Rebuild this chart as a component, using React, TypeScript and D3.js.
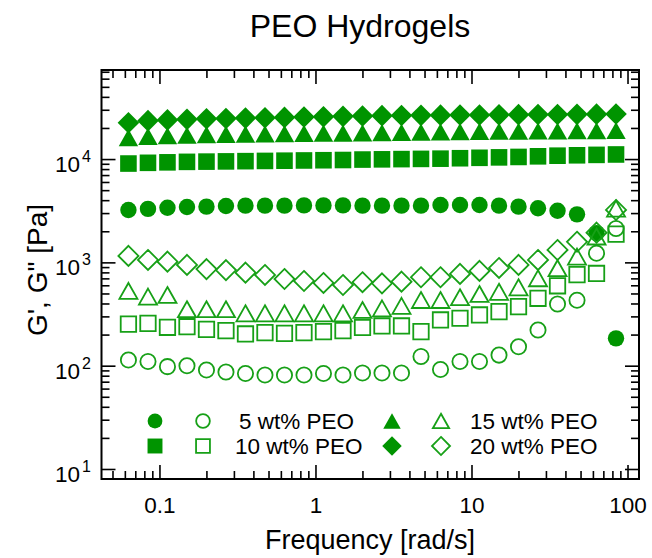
import React from "react";
import * as d3 from "d3";

// Frequencies (rad/s)
const freq = [0.0628, 0.0838, 0.1117, 0.149, 0.1987, 0.2649, 0.3533, 0.4711, 0.6283, 0.8378, 1.117, 1.49, 1.987, 2.649, 3.533, 4.711, 6.283, 8.378, 11.17, 14.9, 19.87, 26.49, 35.33, 47.11, 62.83, 83.78];

// 5 wt% PEO
const gp5 = [3250, 3330, 3420, 3470, 3500, 3550, 3580, 3580, 3580, 3600, 3600, 3600, 3580, 3580, 3580, 3580, 3630, 3630, 3630, 3580, 3500, 3380, 3200, 2950, 1940, 186];
const gpp5 = [115, 111, 99, 101, 92, 88, 85, 82, 82, 82, 85, 82, 86, 86, 86, 124, 93, 111, 111, 128, 154, 224, 400, 435, 1240, 2150];
// 10 wt% PEO
const gp10 = [9150, 9300, 9400, 9500, 9550, 9600, 9650, 9700, 9750, 9800, 9850, 9900, 10000, 10050, 10100, 10150, 10200, 10300, 10400, 10500, 10600, 10750, 10900, 11000, 11100, 11200];
const gpp10 = [255, 260, 238, 241, 227, 221, 205, 211, 208, 211, 216, 221, 237, 245, 245, 216, 280, 291, 313, 337, 377, 454, 600, 770, 790, 1900];
// 15 wt% PEO
const gp15 = [16300, 16800, 17000, 17200, 17400, 17500, 17600, 17700, 17800, 17900, 18000, 18000, 18100, 18200, 18300, 18400, 18500, 18600, 18700, 18800, 18800, 18900, 18900, 19000, 19000, 19100];
const gpp15 = [535, 471, 489, 356, 356, 356, 325, 325, 325, 325, 325, 325, 350, 363, 383, 437, 437, 465, 500, 525, 580, 710, 888, 1150, 1800, 3350];
// 20 wt% PEO
const gp20 = [22700, 23800, 24200, 24500, 24800, 25000, 25200, 25400, 25600, 25800, 26000, 26200, 26400, 26600, 26700, 26800, 26900, 27000, 27000, 27100, 27200, 27300, 27300, 27400, 27500, 27600];
const gpp20 = [1167, 1067, 1028, 955, 871, 851, 804, 764, 698, 668, 639, 611, 650, 634, 658, 726, 726, 782, 836, 893, 955, 1067, 1333, 1600, 1960, 3250];

const xMajor = [0.1, 1, 10, 100];
const xMajorLabels = ["0.1", "1", "10", "100"];
const yMajor = [10, 100, 1000, 10000];
const yExponents = ["1", "2", "3", "4"];

const legendLabels = ["5 wt% PEO", "10 wt% PEO", "15 wt% PEO", "20 wt% PEO"];

type Shape = "circle" | "square" | "triangle" | "diamond";

const series: { values: number[]; shape: Shape; filled: boolean }[] = [
  { values: gp5, shape: "circle", filled: true },
  { values: gpp5, shape: "circle", filled: false },
  { values: gp10, shape: "square", filled: true },
  { values: gpp10, shape: "square", filled: false },
  { values: gp15, shape: "triangle", filled: true },
  { values: gpp15, shape: "triangle", filled: false },
  { values: gp20, shape: "diamond", filled: true },
  { values: gpp20, shape: "diamond", filled: false },
];

const GREEN = "#009400";
const OPEN = "#17a017";
const FONT = "'Liberation Sans', Arial, Helvetica, sans-serif";

function markerPath(shape: Shape, filled: boolean, s: number): string {
  const k = filled ? 1 : 0.93;
  switch (shape) {
    case "circle": {
      const r = 8.2 * k * s;
      return `M${-r},0A${r},${r} 0 1,0 ${r},0A${r},${r} 0 1,0 ${-r},0Z`;
    }
    case "square": {
      const h = 8.3 * k * s;
      return `M${-h},${-h}H${h}V${h}H${-h}Z`;
    }
    case "triangle": {
      const w = 9.7 * k * s;
      const h = 8.6 * k * s;
      return `M0,${-h}L${w},${h}L${-w},${h}Z`;
    }
    case "diamond": {
      const w = 10.8 * k * s;
      return `M0,${-w}L${w},0L0,${w}L${-w},0Z`;
    }
  }
}

function Marker({ x, y, shape, filled, s = 1 }: { x: number; y: number; shape: Shape; filled: boolean; s?: number }) {
  return (
    <path
      transform={`translate(${x},${y})`}
      d={markerPath(shape, filled, s)}
      fill={filled ? GREEN : "none"}
      stroke={filled ? "none" : OPEN}
      strokeWidth={filled ? 0 : 1.8}
    />
  );
}

export default function App() {
  const W = 652;
  const H = 558;
  const left = 101.5, right = 639, top = 70, bottom = 479;
  const x = d3.scaleLog().domain([0.0422, 117.6]).range([left, right]);
  const y = d3.scaleLog().domain([8.09, 73600]).range([bottom, top]);

  const xMinor: number[] = [];
  for (const dec of [0.01, 0.1, 1, 10, 100]) {
    for (let m = 2; m <= 9; m++) {
      const v = dec * m;
      if (v > 0.0422 && v < 117.6) xMinor.push(v);
    }
  }
  const yMinor: number[] = [];
  for (const dec of [10, 100, 1000, 10000]) {
    for (let m = 2; m <= 9; m++) {
      const v = dec * m;
      if (v > 8.09 && v < 73600) yMinor.push(v);
    }
  }
  const MAJ = 14, MIN = 8;

  const legendRows = [421, 446];
  const legendCols = [
    { filledX: 155, openX: 203, textX: [239, 235] },
    { filledX: 392, openX: 441, textX: [470, 470] },
  ];
  const legendShapes: Shape[][] = [
    ["circle", "square"],
    ["triangle", "diamond"],
  ];

  return (
    <svg width={W} height={H} style={{ position: "absolute", left: 0, top: 0, background: "#fff" }} fontFamily={FONT}>
      <rect x={0} y={0} width={W} height={H} fill="#fff" />
      <text x={360} y={37} fontSize={32} textAnchor="middle" fill="#000">PEO Hydrogels</text>

      {/* ticks */}
      <g stroke="#000" strokeWidth={1.6}>
        {xMajor.map((v, i) => (
          <g key={"xM" + i}>
            <line x1={x(v)} x2={x(v)} y1={bottom} y2={bottom - MAJ} />
            <line x1={x(v)} x2={x(v)} y1={top} y2={top + MAJ} />
          </g>
        ))}
        {xMinor.map((v, i) => (
          <g key={"xm" + i}>
            <line x1={x(v)} x2={x(v)} y1={bottom} y2={bottom - MIN} />
            <line x1={x(v)} x2={x(v)} y1={top} y2={top + MIN} />
          </g>
        ))}
        {yMajor.map((v, i) => (
          <g key={"yM" + i}>
            <line x1={left} x2={left + MAJ} y1={y(v)} y2={y(v)} />
            <line x1={right} x2={right - MAJ} y1={y(v)} y2={y(v)} />
          </g>
        ))}
        {yMinor.map((v, i) => (
          <g key={"ym" + i}>
            <line x1={left} x2={left + MIN} y1={y(v)} y2={y(v)} />
            <line x1={right} x2={right - MIN} y1={y(v)} y2={y(v)} />
          </g>
        ))}
      </g>

      {/* data */}
      {series.map((s, si) => (
        <g key={"s" + si}>
          {s.values.map((v, i) => (
            <Marker key={i} x={x(freq[i])} y={y(v)} shape={s.shape} filled={s.filled} />
          ))}
        </g>
      ))}

      {/* legend */}
      {legendCols.map((col, ci) =>
        legendRows.map((ry, ri) => (
          <g key={`lg${ci}-${ri}`}>
            <Marker x={col.filledX} y={ry} shape={legendShapes[ci][ri]} filled={true} s={0.9} />
            <Marker x={col.openX} y={ry} shape={legendShapes[ci][ri]} filled={false} s={0.9} />
            <text x={col.textX[ri]} y={ry + 8} fontSize={22.5} fill="#000">{legendLabels[ci * 2 + ri]}</text>
          </g>
        ))
      )}

      {/* frame */}
      <rect x={left} y={top} width={right - left} height={bottom - top} fill="none" stroke="#000" strokeWidth={2} />

      {/* x tick labels */}
      {xMajor.map((v, i) => (
        <text key={"xl" + i} x={x(v)} y={513} fontSize={22.5} textAnchor="middle" fill="#000">{xMajorLabels[i]}</text>
      ))}
      {/* y tick labels */}
      {yMajor.map((v, i) => (
        <text key={"yl" + i} x={91} y={y(v) + 12.5} fontSize={22.5} textAnchor="end" fill="#000">
          10<tspan dy={-10} dx={2} fontSize={16}>{yExponents[i]}</tspan>
        </text>
      ))}

      <text x={370} y={549} fontSize={27} textAnchor="middle" fill="#000">Frequency [rad/s]</text>
      <text transform="translate(47,270) rotate(-90)" fontSize={28} textAnchor="middle" fill="#000">G', G" [Pa]</text>
    </svg>
  );
}
